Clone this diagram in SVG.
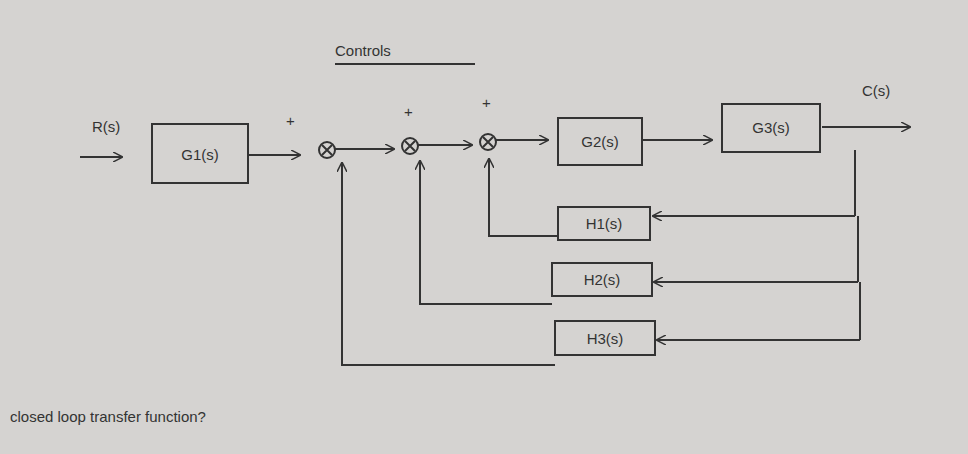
<svg xmlns="http://www.w3.org/2000/svg" width="968" height="454" viewBox="0 0 968 454">
<style>
.ln{stroke:#333;stroke-width:2;fill:none}
.bx{stroke:#333;stroke-width:2;fill:none}
text{font-family:"Liberation Sans",Arial,sans-serif;fill:#333;font-size:15px}
</style>
<defs><marker id="a" viewBox="0 0 10 10" refX="9" refY="5" markerWidth="10" markerHeight="10" markerUnits="userSpaceOnUse" orient="auto"><path d="M0,0L10,5L0,10" fill="none" stroke="#333" stroke-width="1.5"/></marker>
<g id="sumsym"><circle r="8" class="ln"/><path d="M-5,-5L5,5M5,-5L-5,5" class="ln" stroke-width="1.5"/></g></defs>
<rect width="968" height="454" fill="#d5d3d1"/>
<g id="title"><text x="335" y="56" font-size="20">Controls</text><line x1="335" y1="64" x2="475" y2="64" class="ln"/></g>
<g id="connectors">
<path class="ln" marker-end="url(#a)" d="M80,157H122"/>
<path class="ln" marker-end="url(#a)" d="M248,155H300"/>
<path class="ln" marker-end="url(#a)" d="M335,149H394"/>
<path class="ln" marker-end="url(#a)" d="M418,145H472"/>
<path class="ln" marker-end="url(#a)" d="M496,140H548"/>
<path class="ln" marker-end="url(#a)" d="M642,140H712"/>
<path class="ln" marker-end="url(#a)" d="M822,127H910"/>
<path class="ln" d="M855,150V216M858,216V282M860,282V340"/>
<path class="ln" marker-end="url(#a)" d="M855,216H653"/>
<path class="ln" marker-end="url(#a)" d="M858,282H654"/>
<path class="ln" marker-end="url(#a)" d="M860,340H657"/>
<path class="ln" marker-end="url(#a)" d="M558,236H489V159"/>
<path class="ln" marker-end="url(#a)" d="M552,304H420V161"/>
<path class="ln" marker-end="url(#a)" d="M555,365H342V163"/>
</g>
<g id="R"><text x="92" y="132">R(s)</text></g>
<g id="G1"><rect class="bx" x="152" y="124" width="96" height="59"/><text x="200" y="160" text-anchor="middle">G1(s)</text></g>
<g id="sum1"><use href="#sumsym" x="327" y="150"/><text x="286" y="126">+</text></g>
<g id="sum2"><use href="#sumsym" x="410" y="146"/><text x="404" y="117">+</text></g>
<g id="sum3"><use href="#sumsym" x="488" y="142"/><text x="482" y="108">+</text></g>
<g id="G2"><rect class="bx" x="558" y="118" width="84" height="47"/><text x="600" y="147" text-anchor="middle" font-size="13">G2(s)</text></g>
<g id="G3"><rect class="bx" x="722" y="104" width="98" height="48"/><text x="771" y="133" text-anchor="middle">G3(s)</text></g>
<g id="C"><text x="862" y="96">C(s)</text></g>
<g id="H1"><rect class="bx" x="558" y="207" width="92" height="33"/><text x="604" y="229" text-anchor="middle">H1(s)</text></g>
<g id="H2"><rect class="bx" x="552" y="263" width="100" height="33"/><text x="602" y="285" text-anchor="middle">H2(s)</text></g>
<g id="H3"><rect class="bx" x="555" y="321" width="100" height="34"/><text x="605" y="344" text-anchor="middle">H3(s)</text></g>
<g id="note"><text x="10" y="422">closed loop transfer function?</text></g>
</svg>
